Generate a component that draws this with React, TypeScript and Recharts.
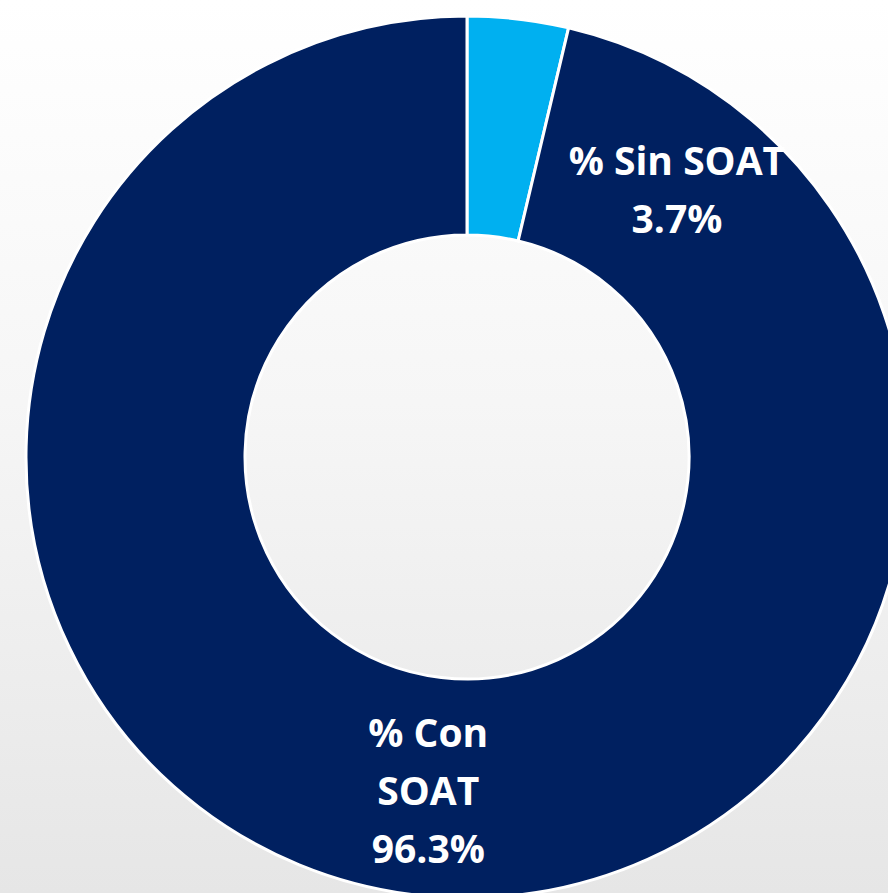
import { Cell, Pie, PieChart } from "recharts";

const categories = ["% Sin SOAT", "% Con SOAT"];
const categoryLines = [["% Sin SOAT"], ["% Con", "SOAT"]];
const shares = [3.7, 96.3];
const colors = ["#00b0f0", "#002060"];

const data = categories.map((name, i) => ({ name, value: shares[i] }));

const RADIAN = Math.PI / 180;
// the small slice's label was dragged off its mid-angle in the original
const labelAngle = [52, null];
const labelRadius = [341, 334];
const LINE = 58;

function renderLabel(props: any) {
  const { cx, cy, midAngle, index, value } = props;
  const angle = labelAngle[index] ?? midAngle;
  const r = labelRadius[index];
  const x = cx + r * Math.cos(-angle * RADIAN);
  const y = cy + r * Math.sin(-angle * RADIAN);
  const lines = [...categoryLines[index], `${value}%`];
  const top = y - ((lines.length - 1) * LINE) / 2;
  return (
    <text
      x={x}
      y={top}
      fill="#ffffff"
      textAnchor="middle"
      dominantBaseline="central"
      fontFamily="'Open Sans', sans-serif"
      fontWeight={700}
      fontSize={39}
    >
      {lines.map((l, k) => (
        <tspan key={k} x={x} y={top + k * LINE}>
          {l}
        </tspan>
      ))}
    </text>
  );
}

export default function App() {
  return (
    <div
      style={{
        position: "absolute",
        left: 0,
        top: 0,
        width: 888,
        height: 893,
        overflow: "hidden",
        background: "linear-gradient(to bottom, #ffffff 0%, #f6f6f6 45%, #e6e6e6 100%)",
      }}
    >
      <PieChart width={888} height={893} margin={{ top: 0, right: 0, bottom: 0, left: 0 }}>
        <Pie
          data={data}
          dataKey="value"
          nameKey="name"
          cx={467}
          cy={457}
          innerRadius={222}
          outerRadius={441}
          startAngle={90}
          endAngle={-270}
          stroke="#ffffff"
          strokeWidth={3}
          labelLine={false}
          label={renderLabel}
          isAnimationActive={false}
        >
          {data.map((d, i) => (
            <Cell key={d.name} fill={colors[i]} />
          ))}
        </Pie>
      </PieChart>
    </div>
  );
}
